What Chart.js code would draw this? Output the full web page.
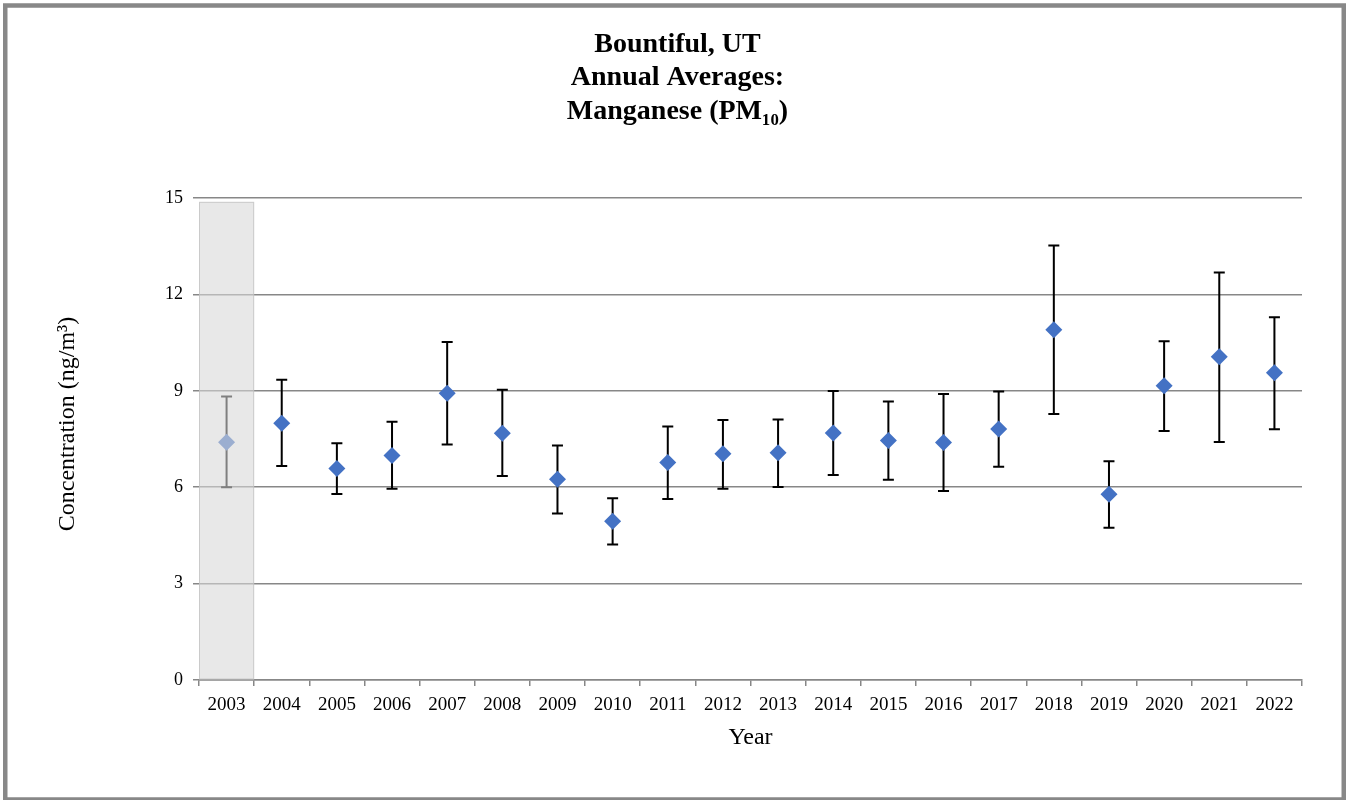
<!DOCTYPE html>
<html>
<head>
<meta charset="utf-8">
<script src="https://cdn.jsdelivr.net/npm/chart.js@4/dist/chart.umd.min.js"></script>
<style>
  html, body { margin: 0; padding: 0; background: #ffffff; }
  #wrap { width: 1349px; height: 800px; }
</style>
</head>
<body>
<div id="wrap"><canvas id="c" width="1349" height="800"></canvas></div>
<script>
// ---- data ----
const years = ['2003','2004','2005','2006','2007','2008','2009','2010','2011','2012',
               '2013','2014','2015','2016','2017','2018','2019','2020','2021','2022'];
const means = [7.40, 7.99, 6.58, 6.99, 8.92, 7.68, 6.25, 4.94, 6.77, 7.04,
               7.07, 7.69, 7.45, 7.39, 7.81, 10.90, 5.78, 9.16, 10.06, 9.56];
const upperCI = [8.82, 9.34, 7.37, 8.04, 10.52, 9.03, 7.30, 5.66, 7.89, 8.09,
                 8.11, 8.99, 8.67, 8.90, 8.98, 13.52, 6.81, 10.54, 12.68, 11.29];
const lowerCI = [6.00, 6.66, 5.79, 5.95, 7.33, 6.35, 5.18, 4.22, 5.63, 5.95,
                 6.01, 6.38, 6.23, 5.88, 6.64, 8.28, 4.74, 7.75, 7.41, 7.80];
const shadedYears = ['2003'];
const shadeTopValue = 14.88;
const yTicks = [0, 3, 6, 9, 12, 15];
const titleLines = ['Bountiful, UT', 'Annual Averages:', 'Manganese (PM\u2081\u2080)'];
const yTitle = 'Concentration (ng/m\u00B3)';
const xTitle = 'Year';

const SERIF = "'Liberation Serif', 'Times New Roman', 'DejaVu Serif', serif";
const GRID = '#878787';

const errorBarPlugin = {
  id: 'errorBars',
  beforeDatasetsDraw(chart) {
    const {ctx, scales: {x, y}} = chart;
    ctx.save();
    ctx.strokeStyle = '#000000';
    ctx.lineWidth = 2;
    const cap = 5.5;
    years.forEach((yr, i) => {
      const px = x.getPixelForValue(i);
      const yHi = y.getPixelForValue(upperCI[i]);
      const yLo = y.getPixelForValue(lowerCI[i]);
      ctx.beginPath();
      ctx.moveTo(px, yHi); ctx.lineTo(px, yLo);
      ctx.moveTo(px - cap, yHi); ctx.lineTo(px + cap, yHi);
      ctx.moveTo(px - cap, yLo); ctx.lineTo(px + cap, yLo);
      ctx.stroke();
    });
    ctx.restore();
  }
};

const shadePlugin = {
  id: 'shade',
  afterDatasetsDraw(chart) {
    const {ctx, scales: {x, y}} = chart;
    ctx.save();
    shadedYears.forEach(yr => {
      const i = years.indexOf(yr);
      const half = (x.getPixelForValue(1) - x.getPixelForValue(0)) / 2;
      const cx = x.getPixelForValue(i);
      const left = cx - half, right = cx + half;
      const top = y.getPixelForValue(shadeTopValue);
      const bottom = y.getPixelForValue(0) - 0.5;
      ctx.fillStyle = 'rgba(216,216,216,0.59)';
      ctx.fillRect(left, top, right - left, bottom - top);
      ctx.strokeStyle = 'rgba(190,190,190,0.7)';
      ctx.lineWidth = 1;
      ctx.strokeRect(left + 0.5, top + 0.5, right - left - 1, bottom - top - 1);
    });
    ctx.restore();
  }
};

// shift the y-axis title slightly upward, as in the reference
const yTitleShiftPlugin = {
  id: 'yTitleShift',
  afterLayout(chart) {
    const s = chart.scales.y;
    if (s && !s.__shifted) {
      const orig = s.drawTitle;
      s.drawTitle = function () {
        const t = this.top, b = this.bottom;
        this.top = t - 15; this.bottom = b - 15;
        try { orig.call(this); } finally { this.top = t; this.bottom = b; }
      };
      s.__shifted = true;
    }
  }
};

const framePlugin = {
  id: 'frame',
  afterDraw(chart) {
    const {ctx} = chart;
    ctx.save();
    ctx.strokeStyle = '#888888';
    ctx.lineWidth = 4.5;
    ctx.strokeRect(5.25, 5.5, 1338.5, 794);
    ctx.restore();
  }
};

new Chart(document.getElementById('c'), {
  type: 'line',
  data: {
    labels: years,
    datasets: [{
      label: 'Manganese (PM10)',
      data: means,
      showLine: false,
      pointStyle: 'rectRot',
      pointRadius: 8.5,
      pointHoverRadius: 8.5,
      pointBackgroundColor: '#4472C4',
      pointBorderColor: '#4472C4',
      pointBorderWidth: 0,
      backgroundColor: '#4472C4',
      borderColor: '#4472C4'
    }]
  },
  options: {
    responsive: false,
    devicePixelRatio: 1,
    animation: false,
    events: [],
    layout: { padding: { top: 0, left: 53, right: 47, bottom: 48 } },
    plugins: {
      legend: { display: false },
      tooltip: { enabled: false },
      title: {
        display: true,
        text: titleLines,
        color: '#000000',
        font: { family: SERIF, size: 28, weight: 'bold', lineHeight: 33.5 / 28 },
        padding: { top: 28, bottom: 69.5 }
      }
    },
    scales: {
      x: {
        type: 'category',
        offset: true,
        grid: {
          display: true, offset: true, drawOnChartArea: false, drawTicks: true,
          tickLength: 6, color: GRID, lineWidth: 1.5
        },
        border: { display: true, color: GRID, width: 1.5 },
        ticks: { color: '#000000', padding: 8, maxRotation: 0, autoSkip: false,
                 font: { family: SERIF, size: 19 } },
        title: { display: true, text: xTitle, color: '#000000', padding: 0,
                 font: { family: SERIF, size: 24 } },
        afterFit(scale) { scale.height = 72; }
      },
      y: {
        type: 'linear',
        min: 0, max: 15,
        afterBuildTicks(scale) { scale.ticks = yTicks.map(v => ({ value: v })); },
        grid: { color: GRID, lineWidth: 1.5, drawTicks: true, tickLength: 6 },
        border: { display: false },
        ticks: { color: '#000000', padding: 10, font: { family: SERIF, size: 18 } },
        title: { display: true, text: yTitle, color: '#000000', padding: 0,
                 font: { family: SERIF, size: 24 } },
        afterFit(scale) { scale.width = 146; }
      }
    }
  },
  plugins: [errorBarPlugin, shadePlugin, yTitleShiftPlugin, framePlugin]
});
</script>
</body>
</html>
